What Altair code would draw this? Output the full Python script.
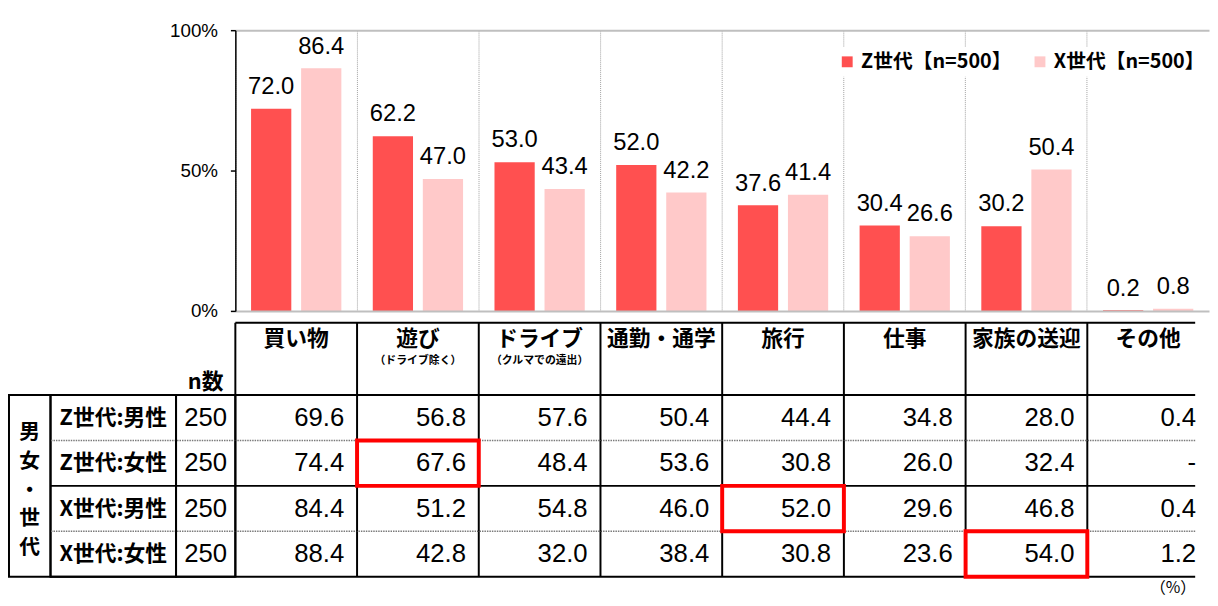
import altair as alt
import pandas as pd

# ---------------- data ----------------
categories = ["買い物", "遊び", "ドライブ", "通勤・通学", "旅行", "仕事", "家族の送迎", "その他"]
subtitles = ["", "（ドライブ除く）", "（クルマでの遠出）", "", "", "", "", ""]
series = ["Z世代【n=500】", "X世代【n=500】"]
z_values = [72.0, 62.2, 53.0, 52.0, 37.6, 30.4, 30.2, 0.2]
x_values = [86.4, 47.0, 43.4, 42.2, 41.4, 26.6, 50.4, 0.8]

rows = ["Z世代:男性", "Z世代:女性", "X世代:男性", "X世代:女性"]
n_values = [250, 250, 250, 250]
z_male = [69.6, 56.8, 57.6, 50.4, 44.4, 34.8, 28.0, 0.4]
z_female = [74.4, 67.6, 48.4, 53.6, 30.8, 26.0, 32.4, None]
x_male = [84.4, 51.2, 54.8, 46.0, 52.0, 29.6, 46.8, 0.4]
x_female = [88.4, 42.8, 32.0, 38.4, 30.8, 23.6, 54.0, 1.2]
group_label = "男女・世代"
highlights = [("Z世代:女性", "遊び"), ("X世代:男性", "旅行"), ("X世代:女性", "家族の送迎")]
unit_label = "（%）"

# ---------------- tables ----------------
bars_df = pd.DataFrame(
    [{"cat": c, "series": series[0], "value": v} for c, v in zip(categories, z_values)]
    + [{"cat": c, "series": series[1], "value": v} for c, v in zip(categories, x_values)]
)
table_rows = [z_male, z_female, x_male, x_female]
cells = []
for r, vals in zip(rows, table_rows):
    for c, v in zip(categories, vals):
        cells.append({
            "row": r, "cat": c,
            "label": "-" if v is None else f"{v:.1f}",
            "hl": (r, c) in highlights,
        })
cells_df = pd.DataFrame(cells)
rows_df = pd.DataFrame({"row": rows, "n": [str(n) for n in n_values]})
hdr_df = pd.DataFrame({"cat": categories, "sub": subtitles, "h": ["h"] * len(categories)})
one_hdr = pd.DataFrame({"h": ["h"], "t": ["n数"]})

# ---------------- style ----------------
JP = "Noto Sans CJK JP"
NUM = "Liberation Sans"
RED, PINK = "#FF5050", "#FFC9C9"
W_MAIN = 971
H_BAR, H_TOP, H_HDR, H_BODY = 284, 296, 73, 184
W_GRP, W_LAB, W_N = 42, 127, 60
GROUP_LH = 29

xs = alt.Scale(type="band", domain=categories, range=[0, 985], paddingInner=0, paddingOuter=0)

# ---------------- bar chart ----------------
x_enc = alt.X("cat:N", scale=xs, title=None,
              axis=alt.Axis(grid=True, gridDash=[1, 1], gridColor="#a0a0a0", gridWidth=1,
                            bandPosition=0, labels=False, ticks=False, domain=False))
y_enc = alt.Y("value:Q", scale=alt.Scale(domain=[0, 100]), title=None,
              axis=alt.Axis(values=[0, 50, 100], labelExpr="datum.value + '%'",
                            domainColor="black", domainWidth=1.5, tickColor="black",
                            tickSize=5, tickWidth=1.5, labelFont=NUM, labelFontSize=19,
                            labelColor="black", labelPadding=13, grid=True,
                            gridColor="#bfbfbf", gridWidth=2,
                            gridOpacity=alt.condition("datum.value == 50", alt.value(0), alt.value(1)),
                            zindex=1))
xo_enc = alt.XOffset("series:N", scale=alt.Scale(domain=series, paddingInner=0.196, paddingOuter=0.314))

bars = alt.Chart(bars_df).mark_bar().encode(
    x=x_enc, xOffset=xo_enc, y=y_enc,
    color=alt.Color("series:N", scale=alt.Scale(domain=series, range=[RED, PINK]),
                    legend=alt.Legend(title=None, orient="none", legendX=833, legendY=17,
                                      direction="horizontal", symbolType="square",
                                      symbolSize=121, symbolStrokeWidth=0,
                                      labelFont=JP, labelFontSize=20, labelFontWeight="bold",
                                      labelColor="black", labelLimit=300, columnPadding=18,
                                      labelOffset=4, fillColor="white", padding=5)),
)
bar_labels = alt.Chart(bars_df).mark_text(font=NUM, fontSize=24, baseline="alphabetic",
                                          dy=-15, color="black").encode(
    x=x_enc, xOffset=xo_enc, y=y_enc, text=alt.Text("value:Q", format=".1f"))
bar_chart = alt.layer(bars, bar_labels).properties(width=W_MAIN, height=H_BAR)


def blank(w, h):
    return alt.Chart(pd.DataFrame({"b": [0]})).mark_point(opacity=0).properties(width=w, height=h)


# ---------------- header row ----------------
ys_h = alt.Scale(type="band", domain=["h"], paddingInner=0, paddingOuter=0)


def hx(bp):
    return alt.X("cat:N", scale=xs, axis=None, bandPosition=bp)


def hy(bp):
    return alt.Y("h:N", scale=ys_h, axis=None, bandPosition=bp)


hbase = alt.Chart(hdr_df)
h_vert = hbase.mark_rule(color="black", strokeWidth=2).encode(
    x=hx(0), y=hy(0), y2=alt.Y2("h:N", bandPosition=1))
h_top = alt.Chart(one_hdr).mark_rule(color="black", strokeWidth=2).encode(y=hy(0))
h_bot = alt.Chart(one_hdr).mark_rule(color="black", strokeWidth=2).encode(y=hy(1))
h_main = hbase.mark_text(font=JP, fontSize=22, fontWeight="bold", baseline="middle",
                         dy=16, color="black").encode(x=hx(0.5), y=hy(0), text="cat:N")
h_sub = hbase.mark_text(font=JP, fontSize=11, fontWeight="bold", baseline="middle",
                        dy=39, color="black").encode(x=hx(0.5), y=hy(0), text="sub:N")
header_chart = alt.layer(h_vert, h_top, h_bot, h_main, h_sub).properties(width=W_MAIN, height=H_HDR)

n_header = alt.Chart(one_hdr).mark_text(font=JP, fontSize=22, fontWeight="bold",
                                        baseline="bottom", dy=-1, color="black").encode(
    y=hy(1), text="t:N").properties(width=W_N, height=H_HDR)

# ---------------- body ----------------
ys_b = alt.Scale(type="band", domain=rows, paddingInner=0, paddingOuter=0)


def by(bp):
    return alt.Y("row:N", scale=ys_b, axis=None, bandPosition=bp)


def row_rules():
    solid = alt.Chart(rows_df).transform_filter("indexof(datum.row, '女性') >= 0").mark_rule(
        color="black", strokeWidth=2).encode(y=by(1))
    dotted = alt.Chart(rows_df).transform_filter("indexof(datum.row, '男性') >= 0").mark_rule(
        color="#7a7a7a", strokeWidth=1.5, strokeDash=[1.5, 1]).encode(y=by(1))
    return [dotted, solid]


frame = alt.ViewBackground(stroke="black", strokeWidth=2)

cbase = alt.Chart(cells_df)
b_vert = cbase.mark_rule(color="black", strokeWidth=2).encode(
    x=alt.X("cat:N", scale=xs, axis=None, bandPosition=0),
    y=by(0), y2=alt.Y2("row:N", bandPosition=1))
b_text = cbase.mark_text(font=NUM, fontSize=26, align="right", baseline="middle",
                         dx=-13, color="black").encode(
    x=alt.X("cat:N", scale=xs, axis=None, bandPosition=1), y=by(0.5), text="label:N")
b_hl = cbase.transform_filter("datum.hl").mark_rect(fillOpacity=0, stroke="#FF0000",
                                                    strokeWidth=4).encode(
    x=alt.X("cat:N", scale=xs, axis=None), y=alt.Y("row:N", scale=ys_b, axis=None))
values_chart = alt.layer(*row_rules(), b_vert, b_text, b_hl).properties(
    width=W_MAIN, height=H_BODY,
    title=alt.TitleParams(unit_label, orient="bottom", anchor="end", font=JP, fontSize=16,
                          fontWeight="normal", offset=1, color="black"))

lab_text = alt.Chart(rows_df).mark_text(font=JP, fontSize=22, fontWeight="bold",
                                        baseline="middle", color="black").encode(
    y=by(0.5), text="row:N")
label_chart = alt.layer(*row_rules(), lab_text).properties(width=W_LAB, height=H_BODY, view=frame)

n_text = alt.Chart(rows_df).mark_text(font=NUM, fontSize=26, baseline="middle",
                                      color="black").encode(y=by(0.5), text="n:N")
n_chart = alt.layer(*row_rules(), n_text).properties(width=W_N, height=H_BODY, view=frame)

group_chart = alt.Chart(pd.DataFrame({"g": ["\n".join(group_label)]})).mark_text(
    font=JP, fontSize=21, fontWeight="bold", lineBreak="\n", lineHeight=GROUP_LH,
    baseline="middle", dy=-(len(group_label) - 1) * GROUP_LH / 2 + 5, color="black").encode(
    text="g:N").properties(width=W_GRP, height=H_BODY, view=frame)

# ---------------- assemble ----------------
chart = alt.concat(
    blank(W_GRP, H_TOP), blank(W_LAB, H_TOP), blank(W_N, H_TOP), bar_chart,
    blank(W_GRP, H_HDR), blank(W_LAB, H_HDR), n_header, header_chart,
    group_chart, label_chart, n_chart, values_chart,
    columns=4, spacing=0, align="each", bounds="flush",
).properties(
    padding={"left": 0, "right": 0, "top": 10, "bottom": 0},
    background="white",
).configure_view(strokeWidth=0)

chart.save("out.html", embed_options={"renderer": "svg", "actions": False})
